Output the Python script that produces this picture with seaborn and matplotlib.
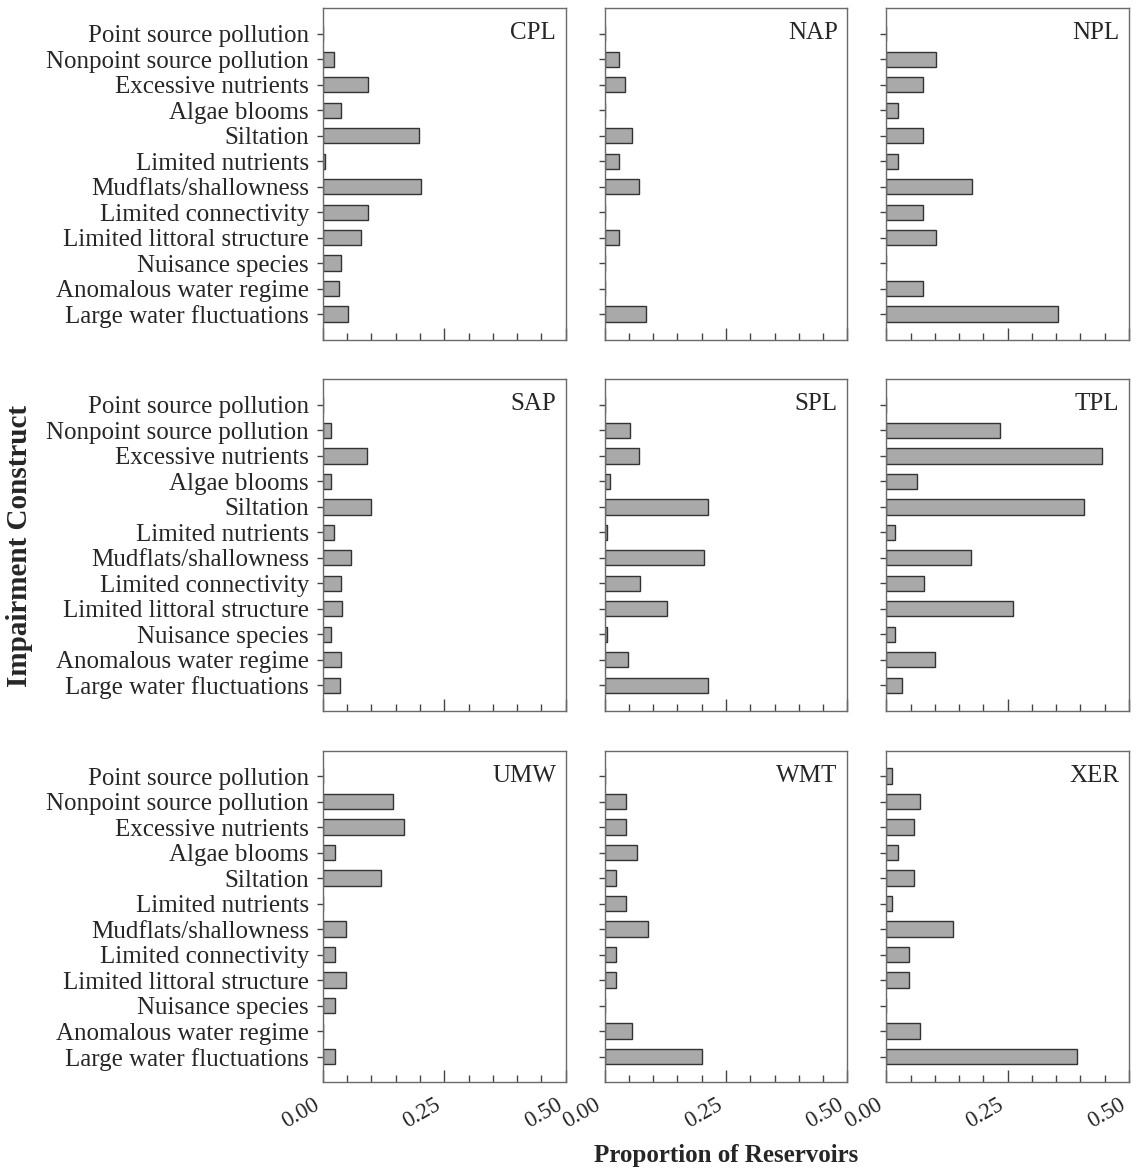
import numpy as np
import pandas as pd
import matplotlib
matplotlib.use("Agg")
import matplotlib.pyplot as plt
from matplotlib.ticker import MultipleLocator, FixedLocator
import seaborn as sns

constructs = [
    "Point source pollution",
    "Nonpoint source pollution",
    "Excessive nutrients",
    "Algae blooms",
    "Siltation",
    "Limited nutrients",
    "Mudflats/shallowness",
    "Limited connectivity",
    "Limited littoral structure",
    "Nuisance species",
    "Anomalous water regime",
    "Large water fluctuations",
]

regions = ["CPL", "NAP", "NPL", "SAP", "SPL", "TPL", "UMW", "WMT", "XER"]

CPL = [0.000, 0.022, 0.092, 0.037, 0.198, 0.004, 0.202, 0.092, 0.078, 0.037, 0.033, 0.051]
NAP = [0.000, 0.030, 0.043, 0.000, 0.056, 0.030, 0.070, 0.000, 0.030, 0.000, 0.000, 0.085]
NPL = [0.000, 0.102, 0.075, 0.025, 0.075, 0.025, 0.176, 0.075, 0.102, 0.000, 0.075, 0.353]
SAP = [0.000, 0.017, 0.090, 0.017, 0.099, 0.022, 0.058, 0.038, 0.040, 0.017, 0.038, 0.035]
SPL = [0.000, 0.052, 0.070, 0.012, 0.212, 0.005, 0.205, 0.072, 0.128, 0.005, 0.048, 0.212]
TPL = [0.000, 0.234, 0.445, 0.064, 0.408, 0.019, 0.175, 0.078, 0.262, 0.019, 0.101, 0.032]
UMW = [0.000, 0.144, 0.168, 0.024, 0.119, 0.000, 0.048, 0.024, 0.048, 0.024, 0.000, 0.024]
WMT = [0.000, 0.045, 0.045, 0.067, 0.024, 0.045, 0.090, 0.024, 0.024, 0.000, 0.056, 0.200]
XER = [0.012, 0.069, 0.058, 0.024, 0.058, 0.012, 0.138, 0.047, 0.047, 0.000, 0.069, 0.393]

values = {"CPL": CPL, "NAP": NAP, "NPL": NPL, "SAP": SAP, "SPL": SPL,
          "TPL": TPL, "UMW": UMW, "WMT": WMT, "XER": XER}

x_ticks = [0.0, 0.25, 0.5]
x_tick_labels = ["0.00", "0.25", "0.50"]

rows = []
for r in regions:
    for c, v in zip(constructs, values[r]):
        rows.append({"region": r, "construct": c, "value": v})
df = pd.DataFrame(rows)

sns.set_theme(style="ticks")
plt.rcParams["font.family"] = ["Liberation Serif", "DejaVu Serif"]

fig, axes = plt.subplots(3, 3, figsize=(11.37, 11.71), dpi=100)
fig.subplots_adjust(left=0.284, right=0.993, top=0.993, bottom=0.076,
                    wspace=0.16, hspace=0.12)

frame_col = "#6a6a6a"
for i, r in enumerate(regions):
    ax = axes.flat[i]
    sub = df[df["region"] == r]
    sns.barplot(data=sub, x="value", y="construct", order=constructs,
                color="#a9a9a9", edgecolor="#333333", linewidth=1.0,
                width=0.6, saturation=1, ax=ax)
    ax.set_xlim(0, 0.5)
    ax.set_ylim(12.0, -1.0)
    ax.set_xlabel("")
    ax.set_ylabel("")
    for s in ax.spines.values():
        s.set_visible(True)
        s.set_color(frame_col)
        s.set_linewidth(1.0)
    ax.xaxis.set_major_locator(FixedLocator(x_ticks))
    ax.xaxis.set_minor_locator(MultipleLocator(0.05))
    ax.tick_params(axis="x", which="major", direction="in", length=9,
                   width=1, color="#444444", pad=9)
    ax.tick_params(axis="x", which="minor", direction="in", length=5,
                   width=1, color="#444444")
    ax.tick_params(axis="y", which="major", direction="out", length=4,
                   width=1, color="#444444", labelsize=18, pad=6)
    row, col = divmod(i, 3)
    if col != 0:
        ax.set_yticklabels([])
    if row == 2:
        ax.set_xticklabels(x_tick_labels, rotation=30, ha="right", va="top",
                           fontsize=16.5, rotation_mode="default")
    else:
        ax.set_xticklabels([])
    ax.text(0.96, 0.958, r, transform=ax.transAxes, ha="right", va="top",
            fontsize=18)

fig.text(0.017, 0.534, "Impairment Construct", rotation=90, ha="center",
         va="center", fontsize=21, fontweight="bold")
fig.text(0.639, 0.013, "Proportion of Reservoirs", ha="center",
         va="center", fontsize=18, fontweight="bold")

fig.savefig("out.png", dpi=100)
